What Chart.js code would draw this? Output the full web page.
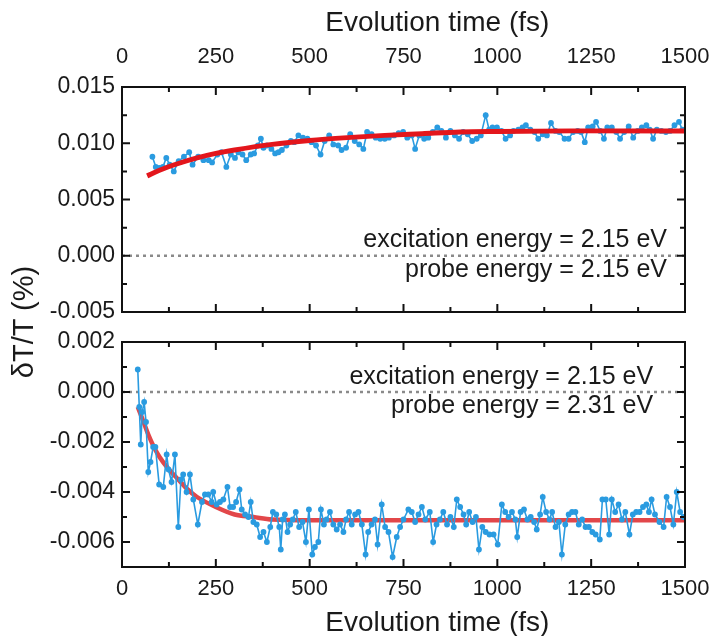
<!DOCTYPE html>
<html>
<head>
<meta charset="utf-8">
<script src="https://cdn.jsdelivr.net/npm/chart.js@4.4.1/dist/chart.umd.min.js"></script>
<style>
  html, body { margin: 0; padding: 0; background: #fff; }
  #wrap { position: relative; width: 714px; height: 636px; overflow: hidden; font-family: "Liberation Sans", Arial, sans-serif; }
  #c1 { position: absolute; left: 0; top: 0; }
  #c2 { position: absolute; left: 0; top: 330px; }
  #ytitle { position: absolute; left: -77px; top: 304px; width: 200px; height: 36px; line-height: 36px;
            text-align: center; font-size: 29px; color: #1a1a1a; transform: rotate(-90deg); }
</style>
</head>
<body>
<div id="wrap">
  <canvas id="c1" width="714" height="330"></canvas>
  <canvas id="c2" width="714" height="306"></canvas>
  <div id="ytitle">δT/T (%)</div>
</div>
<script>
// Axis ticks
const xTicks = [0, 250, 500, 750, 1000, 1250, 1500];
const xMinor = [125, 375, 625, 875, 1125, 1375];
const topYTicks = [-0.005, 0, 0.005, 0.01, 0.015];
const topYMinor = [-0.0025, 0.0025, 0.0075, 0.0125];
const botYTicks = [-0.006, -0.004, -0.002, 0, 0.002];
const botYMinor = [-0.005, -0.003, -0.001, 0.001];
const xTitle = 'Evolution time (fs)';

// Top panel: probe 2.15 eV
const topNotes = ['excitation energy = 2.15 eV', 'probe energy = 2.15 eV'];
const topTime = [81, 90, 99, 109, 118, 127, 138, 151, 165, 179, 188, 203, 217, 231, 240, 254, 265, 278, 290, 301,
  310, 321, 331, 343, 352, 362, 370, 377, 386, 398, 408, 417, 426, 438, 450, 459, 470, 482, 494, 505,
  517, 529, 540, 552, 563, 576, 585, 597, 608, 620, 632, 643, 653, 665, 676, 688, 700, 711, 725, 737,
  749, 760, 772, 781, 792, 805, 816, 828, 840, 851, 863, 875, 887, 898, 909, 921, 933, 945, 956, 969,
  978, 987, 999, 1011, 1022, 1034, 1043, 1056, 1067, 1076, 1088, 1099, 1109, 1121, 1132, 1143, 1155, 1165, 1179, 1190,
  1202, 1214, 1223, 1233, 1242, 1254, 1263, 1274, 1284, 1293, 1305, 1317, 1327, 1338, 1350, 1362, 1374, 1385, 1397, 1406,
  1415, 1425, 1437, 1449, 1460, 1472, 1484, 1493];
const topSignal = [0.0088, 0.0079, 0.0078, 0.0079, 0.0087, 0.0081, 0.0075, 0.0084, 0.0088, 0.0092, 0.0081, 0.0088, 0.0085, 0.0085, 0.0083, 0.0090, 0.0092, 0.0079, 0.0090, 0.0087,
  0.0092, 0.0090, 0.0085, 0.0090, 0.0091, 0.0098, 0.0104, 0.0096, 0.0098, 0.0095, 0.0091, 0.0092, 0.0094, 0.0098, 0.0102, 0.0101, 0.0107, 0.0105, 0.0104, 0.0101,
  0.0098, 0.0090, 0.0102, 0.0107, 0.0099, 0.0098, 0.0094, 0.0096, 0.0108, 0.0102, 0.0099, 0.0095, 0.0110, 0.0108, 0.0105, 0.0104, 0.0104, 0.0105, 0.0107, 0.0109,
  0.0110, 0.0105, 0.0107, 0.0095, 0.0107, 0.0104, 0.0105, 0.0110, 0.0114, 0.0111, 0.0105, 0.0111, 0.0107, 0.0104, 0.0110, 0.0108, 0.0102, 0.0104, 0.0107, 0.0125,
  0.0112, 0.0114, 0.0114, 0.0111, 0.0104, 0.0107, 0.0111, 0.0112, 0.0114, 0.0116, 0.0112, 0.0110, 0.0104, 0.0108, 0.0107, 0.0118, 0.0111, 0.0110, 0.0104, 0.0104,
  0.0110, 0.0111, 0.0110, 0.0101, 0.0114, 0.0115, 0.0119, 0.0111, 0.0104, 0.0114, 0.0114, 0.0110, 0.0104, 0.0110, 0.0115, 0.0105, 0.0111, 0.0114, 0.0116, 0.0112,
  0.0104, 0.0112, 0.0111, 0.0110, 0.0111, 0.0116, 0.0119, 0.0112];
const topFitTime = [67, 100, 150, 200, 250, 300, 400, 500, 600, 700, 800, 900, 1000, 1200, 1500];
const topFitValue = [0.0071, 0.0076, 0.0082, 0.0087, 0.0091, 0.0094, 0.0099, 0.01025, 0.0105, 0.0107, 0.01085, 0.0110, 0.01105, 0.0111, 0.0111];

// Bottom panel: probe 2.31 eV
const botNotes = ['excitation energy = 2.15 eV', 'probe energy = 2.31 eV'];
const botTime = [42, 46, 50, 54, 59, 64, 70, 76, 83, 89, 99, 110, 119, 124, 132, 141, 150, 157, 163, 172,
  181, 190, 202, 213, 221, 230, 239, 243, 252, 261, 270, 281, 288, 296, 304, 313, 319, 328, 337, 343,
  350, 359, 368, 377, 386, 395, 402, 411, 419, 423, 428, 434, 441, 448, 455, 463, 472, 481, 490, 498,
  507, 514, 523, 530, 538, 545, 554, 563, 572, 581, 590, 597, 605, 612, 621, 630, 639, 649, 656, 665,
  674, 681, 692, 701, 710, 721, 732, 741, 750, 763, 772, 781, 790, 799, 808, 820, 829, 838, 847, 856,
  866, 875, 884, 892, 901, 910, 917, 925, 934, 943, 951, 960, 969, 979, 990, 1001, 1012, 1021, 1030, 1039,
  1048, 1053, 1062, 1071, 1080, 1089, 1098, 1105, 1114, 1121, 1130, 1139, 1146, 1155, 1164, 1172, 1181, 1190, 1199, 1208,
  1217, 1226, 1235, 1244, 1253, 1262, 1273, 1280, 1289, 1298, 1305, 1314, 1323, 1332, 1341, 1352, 1361, 1370, 1379, 1388,
  1397, 1404, 1411, 1420, 1432, 1443, 1451, 1460, 1469, 1478, 1487, 1496];
const botSignal = [0.0009, -0.0006, -0.0021, -0.0008, -0.0004, -0.0012, -0.0032, -0.0028, -0.0022, -0.0022, -0.0037, -0.0038, -0.0025, -0.0031, -0.0036, -0.0025, -0.0054, -0.0035, -0.0033, -0.0040,
  -0.0033, -0.0043, -0.0053, -0.0044, -0.0041, -0.0041, -0.0044, -0.0040, -0.0045, -0.0044, -0.0043, -0.0038, -0.0046, -0.0046, -0.0044, -0.0039, -0.0047, -0.0049, -0.0050, -0.0044,
  -0.0052, -0.0053, -0.0058, -0.0056, -0.0060, -0.0054, -0.0048, -0.0049, -0.0054, -0.0063, -0.0051, -0.0049, -0.0056, -0.0053, -0.0051, -0.0048, -0.0054, -0.0052, -0.0060, -0.0047,
  -0.0065, -0.0062, -0.0060, -0.0047, -0.0053, -0.0051, -0.0048, -0.0053, -0.0055, -0.0053, -0.0056, -0.0051, -0.0048, -0.0053, -0.0049, -0.0048, -0.0053, -0.0065, -0.0056, -0.0053,
  -0.0051, -0.0061, -0.0045, -0.0054, -0.0056, -0.0066, -0.0058, -0.0054, -0.0051, -0.0047, -0.0048, -0.0052, -0.0049, -0.0046, -0.0051, -0.0048, -0.0060, -0.0053, -0.0051, -0.0048,
  -0.0053, -0.0050, -0.0054, -0.0043, -0.0046, -0.0049, -0.0053, -0.0048, -0.0052, -0.0050, -0.0063, -0.0054, -0.0056, -0.0057, -0.0057, -0.0061, -0.0045, -0.0048, -0.0050, -0.0048,
  -0.0051, -0.0058, -0.0048, -0.0047, -0.0051, -0.0050, -0.0052, -0.0055, -0.0049, -0.0042, -0.0048, -0.0051, -0.0048, -0.0054, -0.0052, -0.0065, -0.0053, -0.0049, -0.0048, -0.0048,
  -0.0053, -0.0051, -0.0054, -0.0054, -0.0056, -0.0057, -0.0059, -0.0043, -0.0043, -0.0057, -0.0043, -0.0048, -0.0045, -0.0051, -0.0048, -0.0057, -0.0049, -0.0048, -0.0048, -0.0046,
  -0.0045, -0.0048, -0.0043, -0.0049, -0.0052, -0.0054, -0.0042, -0.0046, -0.0053, -0.0040, -0.0048, -0.0050];
const botFitTime = [42, 55, 70, 85, 100, 125, 150, 175, 200, 250, 300, 350, 400, 500, 1500];
const botFitValue = [-0.0006, -0.0011, -0.0017, -0.0022, -0.0026, -0.0031, -0.0035, -0.0039, -0.0042, -0.0046, -0.0049, -0.0050, -0.0051, -0.00513, -0.00513];

const FONT = '"Liberation Sans", Arial, sans-serif';

function toPoints(xs, ys) {
    return xs.map((x, i) => ({ x: x, y: ys[i] }));
}

// Frame, inward ticks, notes and x title
function panelPlugin(cfg) {
    return {
        id: 'panel',
        afterDraw(chart) {
            const { ctx, chartArea: a, scales: { x, y } } = chart;
            ctx.save();

            ctx.fillStyle = '#1a1a1a';
            ctx.font = '25px ' + FONT;
            ctx.textAlign = 'right';
            ctx.textBaseline = 'middle';
            cfg.notes.forEach((t, i) => {
                ctx.fillText(t, x.getPixelForValue(cfg.noteX), y.getPixelForValue(cfg.noteY[i]));
            });

            ctx.font = '28px ' + FONT;
            ctx.textAlign = 'center';
            ctx.fillText(xTitle, x.getPixelForValue(840), cfg.titleY);

            ctx.strokeStyle = '#111';
            ctx.lineWidth = 2;
            ctx.strokeRect(a.left, a.top, a.right - a.left, a.bottom - a.top);

            const xt = (vals, len) => vals.forEach(v => {
                const p = x.getPixelForValue(v);
                ctx.beginPath();
                ctx.moveTo(p, a.top); ctx.lineTo(p, a.top + len);
                ctx.moveTo(p, a.bottom); ctx.lineTo(p, a.bottom - len);
                ctx.stroke();
            });
            const yt = (vals, len) => vals.forEach(v => {
                const p = y.getPixelForValue(v);
                ctx.beginPath();
                ctx.moveTo(a.left, p); ctx.lineTo(a.left + len, p);
                ctx.moveTo(a.right, p); ctx.lineTo(a.right - len, p);
                ctx.stroke();
            });
            xt(xTicks, 8); xt(xMinor, 5);
            yt(cfg.yTicks, 8); yt(cfg.yMinor, 5);
            ctx.restore();
        }
    };
}

function makeChart(id, cfg) {
    const zeroLine = {
        data: [{ x: 0, y: 0 }, { x: 1500, y: 0 }],
        borderColor: '#8a8a8a', borderWidth: 2.5, borderDash: [3, 4], pointRadius: 0
    };
    const signal = {
        data: toPoints(cfg.time, cfg.signal),
        borderColor: '#2a9be0', borderWidth: 1.6,
        pointRadius: 2.9, pointBorderWidth: 0, pointBackgroundColor: '#2a9be0'
    };
    const fit = {
        data: toPoints(cfg.fitTime, cfg.fitValue),
        borderColor: cfg.fitColor, borderWidth: cfg.fitWidth, pointRadius: 0,
        cubicInterpolationMode: 'monotone'
    };
    // first dataset is drawn on top
    const datasets = cfg.fitOnTop ? [fit, signal, zeroLine] : [signal, fit, zeroLine];

    return new Chart(document.getElementById(id), {
        type: 'line',
        data: { datasets: datasets },
        options: {
            responsive: false,
            animation: false,
            layout: { padding: cfg.padding },
            plugins: { legend: { display: false }, tooltip: { enabled: false } },
            scales: {
                x: {
                    type: 'linear',
                    position: cfg.xPos,
                    min: 0, max: 1500,
                    grid: { display: false, drawTicks: false },
                    border: { display: false },
                    afterBuildTicks: s => { s.ticks = xTicks.map(v => ({ value: v })); },
                    afterFit: s => { s.height = cfg.xHeight; s.paddingLeft = 0; s.paddingRight = 0; },
                    ticks: {
                        autoSkip: false, maxRotation: 0, minRotation: 0,
                        padding: cfg.xPad, color: '#1a1a1a',
                        font: { family: FONT, size: 22 },
                        callback: v => String(v)
                    }
                },
                y: {
                    min: cfg.yMin, max: cfg.yMax,
                    grid: { display: false, drawTicks: false },
                    border: { display: false },
                    afterBuildTicks: s => { s.ticks = cfg.yTicks.map(v => ({ value: v })); },
                    afterFit: s => { s.width = 122; s.paddingTop = 0; s.paddingBottom = 0; },
                    ticks: {
                        padding: 7, color: '#1a1a1a',
                        font: { family: FONT, size: 23 },
                        callback: v => v.toFixed(3)
                    }
                }
            }
        },
        plugins: [panelPlugin(cfg)]
    });
}

makeChart('c1', {
    time: topTime, signal: topSignal, fitTime: topFitTime, fitValue: topFitValue,
    fitColor: '#e3161c', fitWidth: 5, fitOnTop: true,
    yMin: -0.005, yMax: 0.015, yTicks: topYTicks, yMinor: topYMinor,
    xPos: 'top', xHeight: 87, xPad: 17,
    padding: { left: 0, right: 29, top: 0, bottom: 18 },
    notes: topNotes, noteX: 1452, noteY: [0.0014, -0.00125], titleY: 23
});

makeChart('c2', {
    time: botTime, signal: botSignal, fitTime: botFitTime, fitValue: botFitValue,
    fitColor: '#e2474a', fitWidth: 4.5, fitOnTop: false,
    yMin: -0.007, yMax: 0.002, yTicks: botYTicks, yMinor: botYMinor,
    xPos: 'bottom', xHeight: 69, xPad: 9,
    padding: { left: 0, right: 29, top: 12, bottom: 0 },
    notes: botNotes, noteX: 1415, noteY: [0.0006, -0.00055], titleY: 293
});
</script>
</body>
</html>
